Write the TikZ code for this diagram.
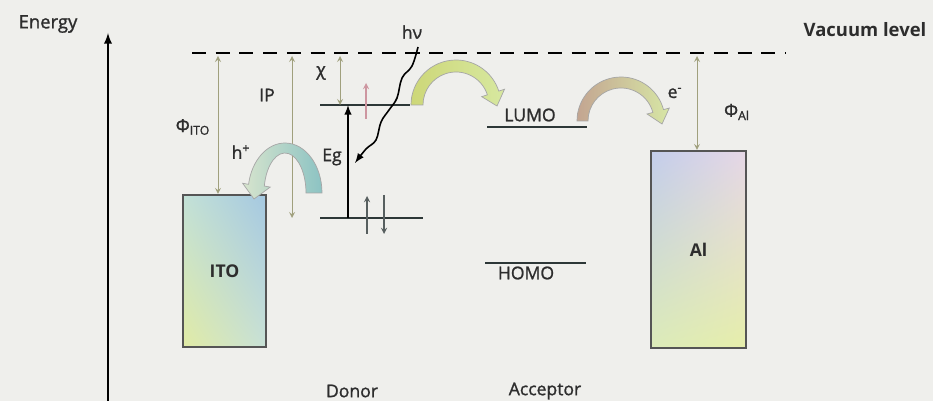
\documentclass[tikz,border=0pt]{standalone}
\usepackage{fontspec}
\setmainfont{Open Sans}
\newfontfamily\semib{Open Sans}[FakeBold=1.2]
\usetikzlibrary{calc,shadings}
\definecolor{bgc}{RGB}{239,239,236}
\definecolor{levelc}{RGB}{45,55,55}
\definecolor{gapc}{RGB}{160,160,125}
\definecolor{boxc}{RGB}{85,85,85}
\definecolor{txtc}{RGB}{45,45,45}
\definecolor{spinc}{RGB}{205,150,160}
\definecolor{itoUL}{RGB}{195,225,215}
\definecolor{itoUR}{RGB}{165,200,225}
\definecolor{itoLL}{RGB}{225,235,165}
\definecolor{itoLR}{RGB}{200,225,215}
\definecolor{alUL}{RGB}{195,205,235}
\definecolor{alUR}{RGB}{230,215,230}
\definecolor{alLL}{RGB}{220,235,185}
\definecolor{alLR}{RGB}{230,238,170}
\definecolor{grL}{RGB}{205,215,120}
\definecolor{grM}{RGB}{195,222,205}
\definecolor{grR}{RGB}{215,232,160}
\definecolor{elL}{RGB}{195,165,145}
\definecolor{elM}{RGB}{222,215,200}
\definecolor{elR}{RGB}{215,230,165}
\definecolor{hoL}{RGB}{215,228,205}
\definecolor{hoR}{RGB}{140,195,195}
\begin{document}
\begin{tikzpicture}[x=0.02cm,y=-0.02cm,
  every node/.style={font=\semib\fontsize{10}{12}\selectfont,text=txtc},
  level/.style={line width=1.2pt,draw=levelc},
  gap/.style={<->,>=stealth,line width=0.5pt,draw=gapc},
  box/.style={draw=boxc,line width=1.2pt,inner sep=0pt,font=\bfseries\fontsize{10}{12}\selectfont},
  fat/.style={draw=gray!70,line width=0.4pt},
  spin/.style={->,>=stealth,line width=0.6pt}]
\path[use as bounding box,fill=bgc] (0,0) rectangle (933,401);
% axis and vacuum level
\node[font=\semib\fontsize{10.5}{12}\selectfont] (energy) at (48,24) {Energy};
\coordinate (axB) at (108,401);
\coordinate (axT) at (108,33);
\draw[-latex,line width=1.1pt] (axB) -- (axT);
\coordinate (vac1) at (192,53);
\coordinate (vac2) at (785,53);
\draw[line width=1.6pt,dash pattern=on 8pt off 5.5pt] (vac1) -- (vac2);
\node[font=\bfseries\fontsize{10.5}{12}\selectfont] (vaclab) at (865,30) {Vacuum level};
% electrodes
\node[box,minimum width=1.66cm,minimum height=3.04cm,
  upper left=itoUL,upper right=itoUR,lower left=itoLL,lower right=itoLR]
  (ito) at (224.5,271) {ITO};
\node[box,minimum width=1.9cm,minimum height=3.94cm,
  upper left=alUL,upper right=alUR,lower left=alLL,lower right=alLR]
  (al) at (698.5,249.5) {Al};
% levels
\coordinate (dL1) at (320,105);
\coordinate (dL2) at (410,105);
\coordinate (dH1) at (320,218);
\coordinate (dH2) at (423,218);
\coordinate (aL1) at (487,127);
\coordinate (aL2) at (587,127);
\coordinate (aH1) at (485,263);
\coordinate (aH2) at (586,263);
\draw[level] (dL1) -- (dL2);
\draw[level] (dH1) -- (dH2);
\draw[level] (aL1) -- (aL2);
\draw[level] (aH1) -- (aH2);
\node (lumo) at (530,115) {LUMO};
\node (homo) at (526,273) {HOMO};
% energy gaps
\coordinate (phiI) at (218,56);
\coordinate (ipT) at (292,56);
\coordinate (chiT) at (340,56);
\coordinate (phiA) at (697,56);
\draw[gap] (phiI) -- (phiI |- ito.north);
\draw[gap] (ipT) -- (ipT |- dH1);
\draw[gap] (chiT) -- (chiT |- dL1);
\draw[gap] (phiA) -- (phiA |- al.north);
\node (philab) at (193,127) {Φ\textsubscript{ITO}};
\node (iplab) at (267,95) {IP};
\node (chilab) at (321,73) {χ};
\node (phialab) at (737,112) {Φ\textsubscript{Al}};
\coordinate (egB) at (348,218);
\draw[-latex,line width=0.9pt] (egB) -- (egB |- dL1);
\node (eglab) at (332,157) {Eg};
% spins
\coordinate (s1) at (366,119);
\coordinate (s2) at (367,234);
\coordinate (s3) at (384,195);
\draw[spin,draw=spinc] (s1) -- ++(0,-36);
\draw[spin,draw=levelc!80] (s2) -- ++(0,-38);
\draw[spin,draw=levelc!80] (s3) -- ++(0,39);
% photon
\coordinate (hvS) at (418,47);
\coordinate (hvE) at (355,163);
\draw[-latex,line width=0.9pt] plot[smooth,tension=0.6] coordinates {(hvS) (412,66) (402,78) (397,98) (389,110) (381,122) (376,140) (366,149) (hvE)};
\node (hvlab) at (412,32) {hν};
% transfer arrows
\coordinate (gC) at (456,105);
\path[fat,left color=grL,middle color=grM,right color=grR]
  ($(gC)+(180:45)$) arc[start angle=180,end angle=342,radius=45]
  -- ($(gC)+(342:51)$) -- (497,106) -- ($(gC)+(342:27)$) -- ($(gC)+(342:33)$)
  arc[start angle=342,end angle=180,radius=33] -- cycle;
\coordinate (eC) at (621,121);
\path[fat,left color=elL,middle color=elM,right color=elR]
  ($(eC)+(180:44)$) arc[start angle=180,end angle=345,radius=44]
  -- ($(eC)+(345:50)$) -- (662,124) -- ($(eC)+(345:27)$) -- ($(eC)+(345:33)$)
  arc[start angle=345,end angle=180,radius=33] -- cycle;
\node (elab) at (675,93) {e\textsuperscript{-}};
\coordinate (hC) at (285,193);
\path[fat,left color=hoL,right color=hoR]
  ($(hC)+(360:37 and 50)$) arc[start angle=360,end angle=190,x radius=37,y radius=50]
  -- ($(hC)+(190:43 and 56)$) -- (254,199) -- ($(hC)+(190:15 and 34)$) -- ($(hC)+(190:21 and 40)$)
  arc[start angle=190,end angle=360,x radius=21,y radius=40] -- cycle;
\node (hlab) at (241,152) {h\textsuperscript{+}};
% layers
\node (donor) at (352,391) {Donor};
\node (acceptor) at (545,391) {Acceptor};
\end{tikzpicture}
\end{document}
